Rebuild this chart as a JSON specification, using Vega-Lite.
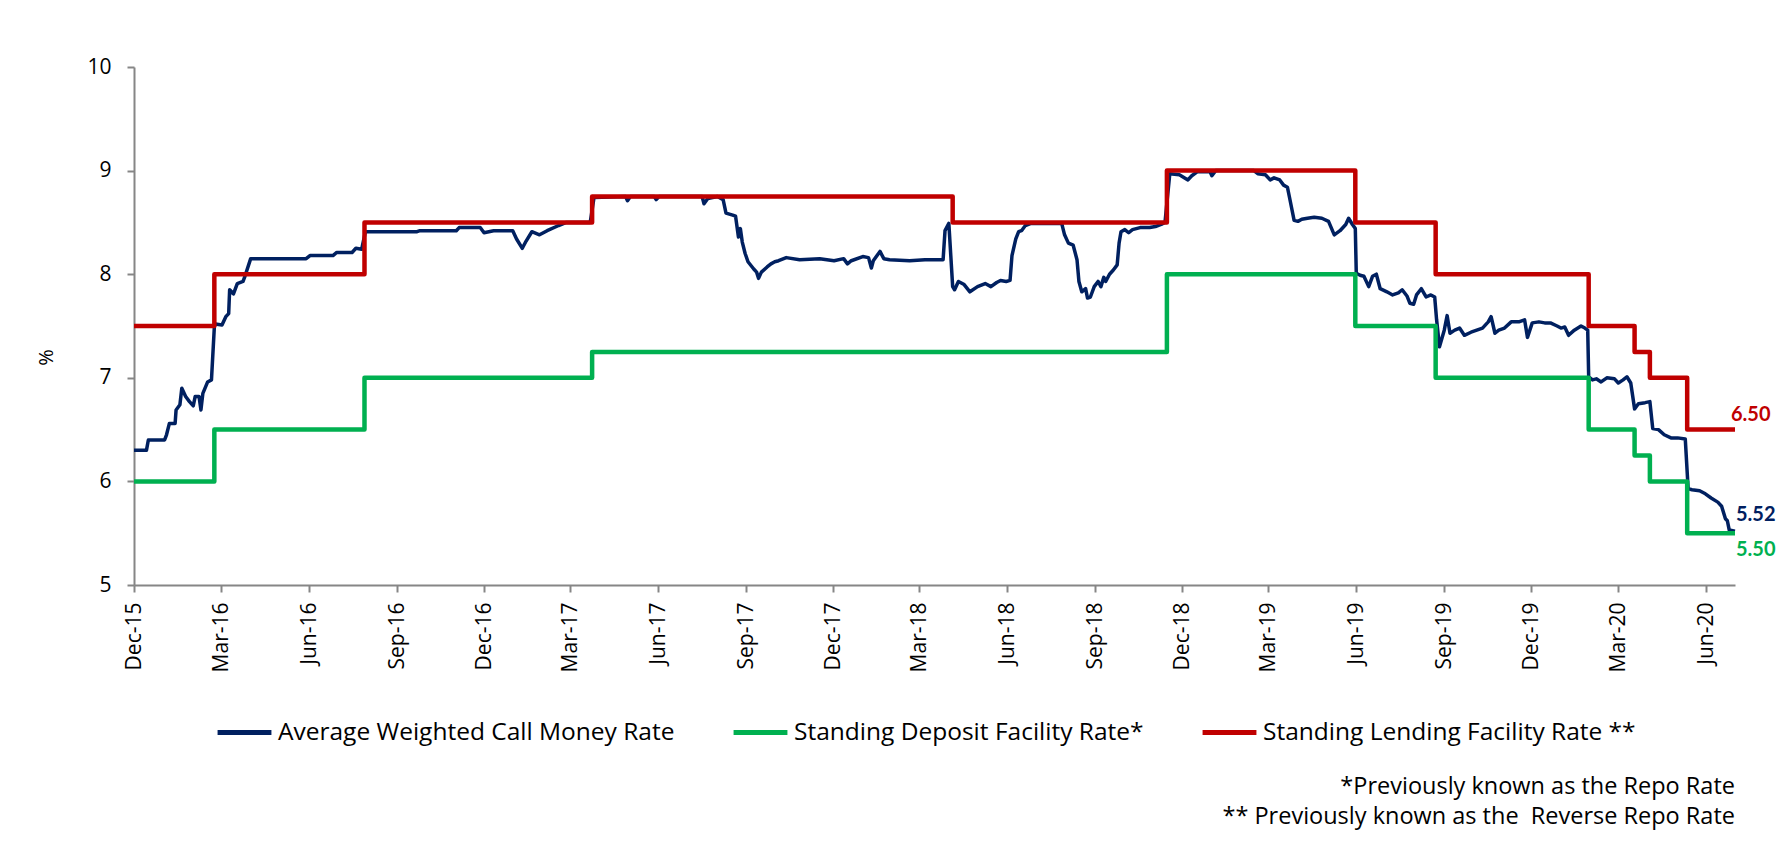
{
  "$schema": "https://vega.github.io/schema/vega-lite/v6.json",
  "width": 1601,
  "height": 518,
  "autosize": {"type": "none"},
  "padding": {"left": 134, "top": 67, "right": 44, "bottom": 280},
  "background": "white",
  "config": {
    "font": "Open Sans",
    "view": {"stroke": null},
    "axis": {
      "domainColor": "#868686", "domainWidth": 2,
      "tickColor": "#868686", "tickWidth": 2, "tickSize": 7,
      "grid": false,
      "labelFont": "Open Sans", "labelFontSize": 21, "labelColor": "#000000",
      "titleFont": "Open Sans", "titleFontWeight": "normal", "titleColor": "#000000"
    }
  },
  "title": {
    "text": ["*Previously known as the Repo Rate", "** Previously known as the\u00a0 Reverse Repo Rate"],
    "orient": "bottom", "anchor": "end", "align": "right", "frame": "group",
    "font": "Open Sans", "fontSize": 23.5, "fontWeight": "normal", "color": "#000000",
    "lineHeight": 30, "offset": 31
  },
  "datasets": {
    "cm": [
      {"d":"2015-12-01","v":6.30},{"d":"2015-12-14","v":6.30},{"d":"2015-12-16","v":6.40},{"d":"2016-01-02","v":6.40},
      {"d":"2016-01-04","v":6.45},{"d":"2016-01-07","v":6.56},{"d":"2016-01-13","v":6.56},{"d":"2016-01-14","v":6.69},
      {"d":"2016-01-18","v":6.74},{"d":"2016-01-20","v":6.90},{"d":"2016-01-24","v":6.82},{"d":"2016-01-28","v":6.77},
      {"d":"2016-02-01","v":6.73},{"d":"2016-02-03","v":6.82},{"d":"2016-02-07","v":6.82},{"d":"2016-02-09","v":6.69},
      {"d":"2016-02-11","v":6.85},{"d":"2016-02-16","v":6.96},{"d":"2016-02-20","v":6.98},{"d":"2016-02-23","v":7.49},
      {"d":"2016-02-24","v":7.52},{"d":"2016-03-02","v":7.51},{"d":"2016-03-06","v":7.59},{"d":"2016-03-09","v":7.62},
      {"d":"2016-03-10","v":7.85},{"d":"2016-03-14","v":7.81},{"d":"2016-03-18","v":7.91},{"d":"2016-03-24","v":7.93},
      {"d":"2016-03-26","v":7.98},{"d":"2016-04-01","v":8.15},{"d":"2016-05-29","v":8.15},{"d":"2016-06-02","v":8.18},
      {"d":"2016-06-26","v":8.18},{"d":"2016-06-30","v":8.21},{"d":"2016-07-16","v":8.21},{"d":"2016-07-20","v":8.25},
      {"d":"2016-07-26","v":8.24},{"d":"2016-07-30","v":8.41},{"d":"2016-09-22","v":8.41},{"d":"2016-09-25","v":8.42},
      {"d":"2016-11-02","v":8.42},{"d":"2016-11-05","v":8.45},{"d":"2016-11-27","v":8.45},{"d":"2016-12-01","v":8.40},
      {"d":"2016-12-11","v":8.42},{"d":"2016-12-31","v":8.42},{"d":"2017-01-04","v":8.34},{"d":"2017-01-10","v":8.25},
      {"d":"2017-01-14","v":8.32},{"d":"2017-01-20","v":8.41},{"d":"2017-01-28","v":8.38},{"d":"2017-02-05","v":8.42},
      {"d":"2017-02-17","v":8.47},{"d":"2017-02-25","v":8.50},{"d":"2017-03-22","v":8.50},{"d":"2017-03-26","v":8.74},
      {"d":"2017-04-28","v":8.75},{"d":"2017-04-30","v":8.71},{"d":"2017-05-03","v":8.75},{"d":"2017-05-28","v":8.75},
      {"d":"2017-05-30","v":8.72},{"d":"2017-06-02","v":8.75},{"d":"2017-07-17","v":8.75},{"d":"2017-07-19","v":8.68},
      {"d":"2017-07-23","v":8.73},{"d":"2017-08-02","v":8.75},{"d":"2017-08-08","v":8.72},{"d":"2017-08-11","v":8.59},
      {"d":"2017-08-18","v":8.57},{"d":"2017-08-21","v":8.56},{"d":"2017-08-24","v":8.36},{"d":"2017-08-26","v":8.44},
      {"d":"2017-08-28","v":8.31},{"d":"2017-08-31","v":8.20},{"d":"2017-09-03","v":8.12},{"d":"2017-09-09","v":8.05},
      {"d":"2017-09-12","v":8.02},{"d":"2017-09-14","v":7.96},{"d":"2017-09-17","v":8.02},{"d":"2017-09-23","v":8.07},
      {"d":"2017-09-27","v":8.10},{"d":"2017-10-01","v":8.12},{"d":"2017-10-05","v":8.13},{"d":"2017-10-13","v":8.16},
      {"d":"2017-10-27","v":8.14},{"d":"2017-11-17","v":8.15},{"d":"2017-12-02","v":8.13},{"d":"2017-12-12","v":8.15},
      {"d":"2017-12-16","v":8.10},{"d":"2017-12-20","v":8.13},{"d":"2018-01-01","v":8.17},{"d":"2018-01-07","v":8.16},
      {"d":"2018-01-10","v":8.06},{"d":"2018-01-12","v":8.13},{"d":"2018-01-19","v":8.22},{"d":"2018-01-23","v":8.15},
      {"d":"2018-01-29","v":8.14},{"d":"2018-02-19","v":8.13},{"d":"2018-03-07","v":8.14},{"d":"2018-03-26","v":8.14},
      {"d":"2018-03-28","v":8.42},{"d":"2018-04-01","v":8.49},{"d":"2018-04-05","v":7.88},{"d":"2018-04-07","v":7.85},
      {"d":"2018-04-11","v":7.93},{"d":"2018-04-17","v":7.90},{"d":"2018-04-23","v":7.83},{"d":"2018-05-01","v":7.88},
      {"d":"2018-05-09","v":7.91},{"d":"2018-05-15","v":7.88},{"d":"2018-05-21","v":7.92},{"d":"2018-05-25","v":7.94},
      {"d":"2018-05-31","v":7.93},{"d":"2018-06-04","v":7.94},{"d":"2018-06-06","v":8.18},{"d":"2018-06-10","v":8.34},
      {"d":"2018-06-13","v":8.41},{"d":"2018-06-16","v":8.42},{"d":"2018-06-20","v":8.47},{"d":"2018-06-26","v":8.49},
      {"d":"2018-07-28","v":8.49},{"d":"2018-07-31","v":8.38},{"d":"2018-08-04","v":8.30},{"d":"2018-08-09","v":8.28},
      {"d":"2018-08-13","v":8.14},{"d":"2018-08-15","v":7.93},{"d":"2018-08-18","v":7.83},{"d":"2018-08-22","v":7.86},
      {"d":"2018-08-24","v":7.77},{"d":"2018-08-27","v":7.78},{"d":"2018-08-31","v":7.88},{"d":"2018-09-04","v":7.93},
      {"d":"2018-09-07","v":7.88},{"d":"2018-09-10","v":7.97},{"d":"2018-09-12","v":7.93},{"d":"2018-09-16","v":8.00},
      {"d":"2018-09-20","v":8.04},{"d":"2018-09-24","v":8.09},{"d":"2018-09-26","v":8.30},{"d":"2018-09-28","v":8.41},
      {"d":"2018-10-02","v":8.43},{"d":"2018-10-06","v":8.40},{"d":"2018-10-10","v":8.43},{"d":"2018-10-18","v":8.45},
      {"d":"2018-10-28","v":8.45},{"d":"2018-11-03","v":8.46},{"d":"2018-11-09","v":8.48},{"d":"2018-11-13","v":8.50},
      {"d":"2018-11-18","v":8.97},{"d":"2018-11-28","v":8.96},{"d":"2018-12-07","v":8.91},{"d":"2018-12-11","v":8.95},
      {"d":"2018-12-17","v":8.99},{"d":"2018-12-30","v":8.99},{"d":"2019-01-01","v":8.95},{"d":"2019-01-05","v":9.00},
      {"d":"2019-02-14","v":9.00},{"d":"2019-02-18","v":8.97},{"d":"2019-02-26","v":8.96},{"d":"2019-03-03","v":8.91},
      {"d":"2019-03-07","v":8.93},{"d":"2019-03-13","v":8.91},{"d":"2019-03-17","v":8.86},{"d":"2019-03-21","v":8.84},
      {"d":"2019-03-23","v":8.75},{"d":"2019-03-28","v":8.52},{"d":"2019-04-01","v":8.51},{"d":"2019-04-05","v":8.53},
      {"d":"2019-04-11","v":8.54},{"d":"2019-04-18","v":8.55},{"d":"2019-04-26","v":8.54},{"d":"2019-05-03","v":8.51},
      {"d":"2019-05-09","v":8.38},{"d":"2019-05-15","v":8.42},{"d":"2019-05-21","v":8.48},{"d":"2019-05-24","v":8.54},
      {"d":"2019-05-28","v":8.48},{"d":"2019-05-31","v":8.44},{"d":"2019-06-01","v":8.01},{"d":"2019-06-05","v":7.99},
      {"d":"2019-06-09","v":7.98},{"d":"2019-06-14","v":7.88},{"d":"2019-06-18","v":7.98},{"d":"2019-06-22","v":8.00},
      {"d":"2019-06-26","v":7.86},{"d":"2019-07-03","v":7.83},{"d":"2019-07-09","v":7.80},{"d":"2019-07-15","v":7.82},
      {"d":"2019-07-19","v":7.85},{"d":"2019-07-24","v":7.79},{"d":"2019-07-27","v":7.72},{"d":"2019-07-31","v":7.71},
      {"d":"2019-08-03","v":7.80},{"d":"2019-08-08","v":7.86},{"d":"2019-08-13","v":7.78},{"d":"2019-08-18","v":7.80},
      {"d":"2019-08-22","v":7.78},{"d":"2019-08-24","v":7.56},{"d":"2019-08-27","v":7.30},{"d":"2019-09-01","v":7.46},
      {"d":"2019-09-04","v":7.60},{"d":"2019-09-07","v":7.43},{"d":"2019-09-12","v":7.46},{"d":"2019-09-17","v":7.48},
      {"d":"2019-09-22","v":7.41},{"d":"2019-09-29","v":7.44},{"d":"2019-10-05","v":7.46},{"d":"2019-10-11","v":7.48},
      {"d":"2019-10-17","v":7.54},{"d":"2019-10-20","v":7.59},{"d":"2019-10-24","v":7.43},{"d":"2019-10-28","v":7.46},
      {"d":"2019-11-03","v":7.48},{"d":"2019-11-10","v":7.54},{"d":"2019-11-18","v":7.54},{"d":"2019-11-24","v":7.56},
      {"d":"2019-11-27","v":7.39},{"d":"2019-12-02","v":7.53},{"d":"2019-12-09","v":7.54},{"d":"2019-12-15","v":7.53},
      {"d":"2019-12-21","v":7.53},{"d":"2019-12-28","v":7.50},{"d":"2020-01-01","v":7.48},{"d":"2020-01-05","v":7.49},
      {"d":"2020-01-09","v":7.41},{"d":"2020-01-15","v":7.46},{"d":"2020-01-22","v":7.50},{"d":"2020-01-26","v":7.48},
      {"d":"2020-01-29","v":7.46},{"d":"2020-01-30","v":7.01},{"d":"2020-02-03","v":6.98},{"d":"2020-02-07","v":6.99},
      {"d":"2020-02-12","v":6.96},{"d":"2020-02-18","v":7.00},{"d":"2020-02-26","v":6.99},{"d":"2020-03-01","v":6.95},
      {"d":"2020-03-06","v":6.98},{"d":"2020-03-10","v":7.01},{"d":"2020-03-14","v":6.95},{"d":"2020-03-18","v":6.70},
      {"d":"2020-03-22","v":6.75},{"d":"2020-03-29","v":6.76},{"d":"2020-04-03","v":6.77},{"d":"2020-04-06","v":6.51},
      {"d":"2020-04-12","v":6.50},{"d":"2020-04-18","v":6.45},{"d":"2020-04-25","v":6.42},{"d":"2020-05-02","v":6.42},
      {"d":"2020-05-10","v":6.41},{"d":"2020-05-13","v":5.93},{"d":"2020-05-17","v":5.92},{"d":"2020-05-25","v":5.91},
      {"d":"2020-05-31","v":5.88},{"d":"2020-06-06","v":5.84},{"d":"2020-06-13","v":5.80},{"d":"2020-06-17","v":5.76},
      {"d":"2020-06-21","v":5.64},{"d":"2020-06-23","v":5.62},{"d":"2020-06-25","v":5.53},{"d":"2020-07-01","v":5.52}
    ],
    "policy": [
      {"s":"Standing Deposit Facility Rate*","d":"2015-12-01","v":6.00},
      {"s":"Standing Deposit Facility Rate*","d":"2016-02-23","v":6.50},
      {"s":"Standing Deposit Facility Rate*","d":"2016-07-29","v":7.00},
      {"s":"Standing Deposit Facility Rate*","d":"2017-03-24","v":7.25},
      {"s":"Standing Deposit Facility Rate*","d":"2018-11-15","v":8.00},
      {"s":"Standing Deposit Facility Rate*","d":"2019-05-31","v":7.50},
      {"s":"Standing Deposit Facility Rate*","d":"2019-08-23","v":7.00},
      {"s":"Standing Deposit Facility Rate*","d":"2020-01-30","v":6.50},
      {"s":"Standing Deposit Facility Rate*","d":"2020-03-18","v":6.25},
      {"s":"Standing Deposit Facility Rate*","d":"2020-04-03","v":6.00},
      {"s":"Standing Deposit Facility Rate*","d":"2020-05-12","v":5.50},
      {"s":"Standing Deposit Facility Rate*","d":"2020-07-01","v":5.50},
      {"s":"Standing Lending Facility Rate **","d":"2015-12-01","v":7.50},
      {"s":"Standing Lending Facility Rate **","d":"2016-02-23","v":8.00},
      {"s":"Standing Lending Facility Rate **","d":"2016-07-29","v":8.50},
      {"s":"Standing Lending Facility Rate **","d":"2017-03-24","v":8.75},
      {"s":"Standing Lending Facility Rate **","d":"2018-04-05","v":8.50},
      {"s":"Standing Lending Facility Rate **","d":"2018-11-15","v":9.00},
      {"s":"Standing Lending Facility Rate **","d":"2019-05-31","v":8.50},
      {"s":"Standing Lending Facility Rate **","d":"2019-08-23","v":8.00},
      {"s":"Standing Lending Facility Rate **","d":"2020-01-30","v":7.50},
      {"s":"Standing Lending Facility Rate **","d":"2020-03-18","v":7.25},
      {"s":"Standing Lending Facility Rate **","d":"2020-04-03","v":7.00},
      {"s":"Standing Lending Facility Rate **","d":"2020-05-12","v":6.50},
      {"s":"Standing Lending Facility Rate **","d":"2020-07-01","v":6.50}
    ],
    "ends": [
      {"s":"Standing Lending Facility Rate **","d":"2020-07-01","v":6.50,"t":"6.50"},
      {"s":"Average Weighted Call Money Rate","d":"2020-07-01","v":5.52,"t":"5.52"},
      {"s":"Standing Deposit Facility Rate*","d":"2020-07-01","v":5.50,"t":"5.50"}
    ]
  },
  "encoding": {
    "x": {
      "field": "d", "type": "temporal", "title": null,
      "scale": {"type": "utc", "domain": [{"year":2015,"month":12,"date":1,"utc":true},{"year":2020,"month":7,"date":1,"utc":true}]},
      "axis": {
        "format": "%b-%y", "labelAngle": -90, "labelPadding": 10, "labelFlush": false, "labelOverlap": false,
        "values": [
          {"year":2015,"month":12,"date":1,"utc":true},
          {"year":2016,"month":3,"date":1,"utc":true},{"year":2016,"month":6,"date":1,"utc":true},{"year":2016,"month":9,"date":1,"utc":true},{"year":2016,"month":12,"date":1,"utc":true},
          {"year":2017,"month":3,"date":1,"utc":true},{"year":2017,"month":6,"date":1,"utc":true},{"year":2017,"month":9,"date":1,"utc":true},{"year":2017,"month":12,"date":1,"utc":true},
          {"year":2018,"month":3,"date":1,"utc":true},{"year":2018,"month":6,"date":1,"utc":true},{"year":2018,"month":9,"date":1,"utc":true},{"year":2018,"month":12,"date":1,"utc":true},
          {"year":2019,"month":3,"date":1,"utc":true},{"year":2019,"month":6,"date":1,"utc":true},{"year":2019,"month":9,"date":1,"utc":true},{"year":2019,"month":12,"date":1,"utc":true},
          {"year":2020,"month":3,"date":1,"utc":true},{"year":2020,"month":6,"date":1,"utc":true}
        ]
      }
    },
    "y": {
      "field": "v", "type": "quantitative",
      "scale": {"domain": [5, 10], "nice": false, "zero": false},
      "axis": {"values": [5,6,7,8,9,10], "labelPadding": 16, "title": "%", "titleFontSize": 20, "titleX": -78, "titleY": 290, "titleAngle": -90}
    }
  },
  "layer": [
    {
      "data": {"name": "cm"},
      "mark": {"type": "line", "strokeWidth": 3.5, "strokeJoin": "round"},
      "encoding": {
        "color": {
          "datum": "Average Weighted Call Money Rate",
          "title": null,
          "scale": {
            "domain": ["Average Weighted Call Money Rate", "Standing Deposit Facility Rate*", "Standing Lending Facility Rate **"],
            "range": ["#002060", "#00B050", "#C00000"]
          },
          "legend": {
            "orient": "none", "legendX": 81, "legendY": 636, "direction": "horizontal", "title": null,
            "symbolType": "stroke", "symbolSize": 2900, "symbolStrokeWidth": 5,
            "labelFont": "Open Sans", "labelFontSize": 24.5, "labelColor": "#000000", "labelOffset": 4, "labelLimit": 0,
            "columnPadding": 48
          }
        }
      }
    },
    {
      "data": {"name": "policy"},
      "mark": {"type": "line", "interpolate": "step-after", "strokeWidth": 4.5, "strokeJoin": "round"},
      "encoding": {"color": {"field": "s", "type": "nominal", "title": null}}
    },
    {
      "data": {"name": "ends"},
      "transform": [{"filter": "datum.t == '6.50'"}],
      "mark": {"type": "text", "align": "left", "baseline": "middle", "dx": -4, "dy": -15, "fontSize": 20, "fontWeight": "bold", "font": "Lato"},
      "encoding": {"text": {"field": "t"}, "color": {"field": "s", "type": "nominal", "title": null}}
    },
    {
      "data": {"name": "ends"},
      "transform": [{"filter": "datum.t == '5.52'"}],
      "mark": {"type": "text", "align": "left", "baseline": "middle", "dx": 1, "dy": -16, "fontSize": 20, "fontWeight": "bold", "font": "Lato"},
      "encoding": {"text": {"field": "t"}, "color": {"field": "s", "type": "nominal", "title": null}}
    },
    {
      "data": {"name": "ends"},
      "transform": [{"filter": "datum.t == '5.50'"}],
      "mark": {"type": "text", "align": "left", "baseline": "middle", "dx": 1, "dy": 17, "fontSize": 20, "fontWeight": "bold", "font": "Lato"},
      "encoding": {"text": {"field": "t"}, "color": {"field": "s", "type": "nominal", "title": null}}
    }
  ]
}
